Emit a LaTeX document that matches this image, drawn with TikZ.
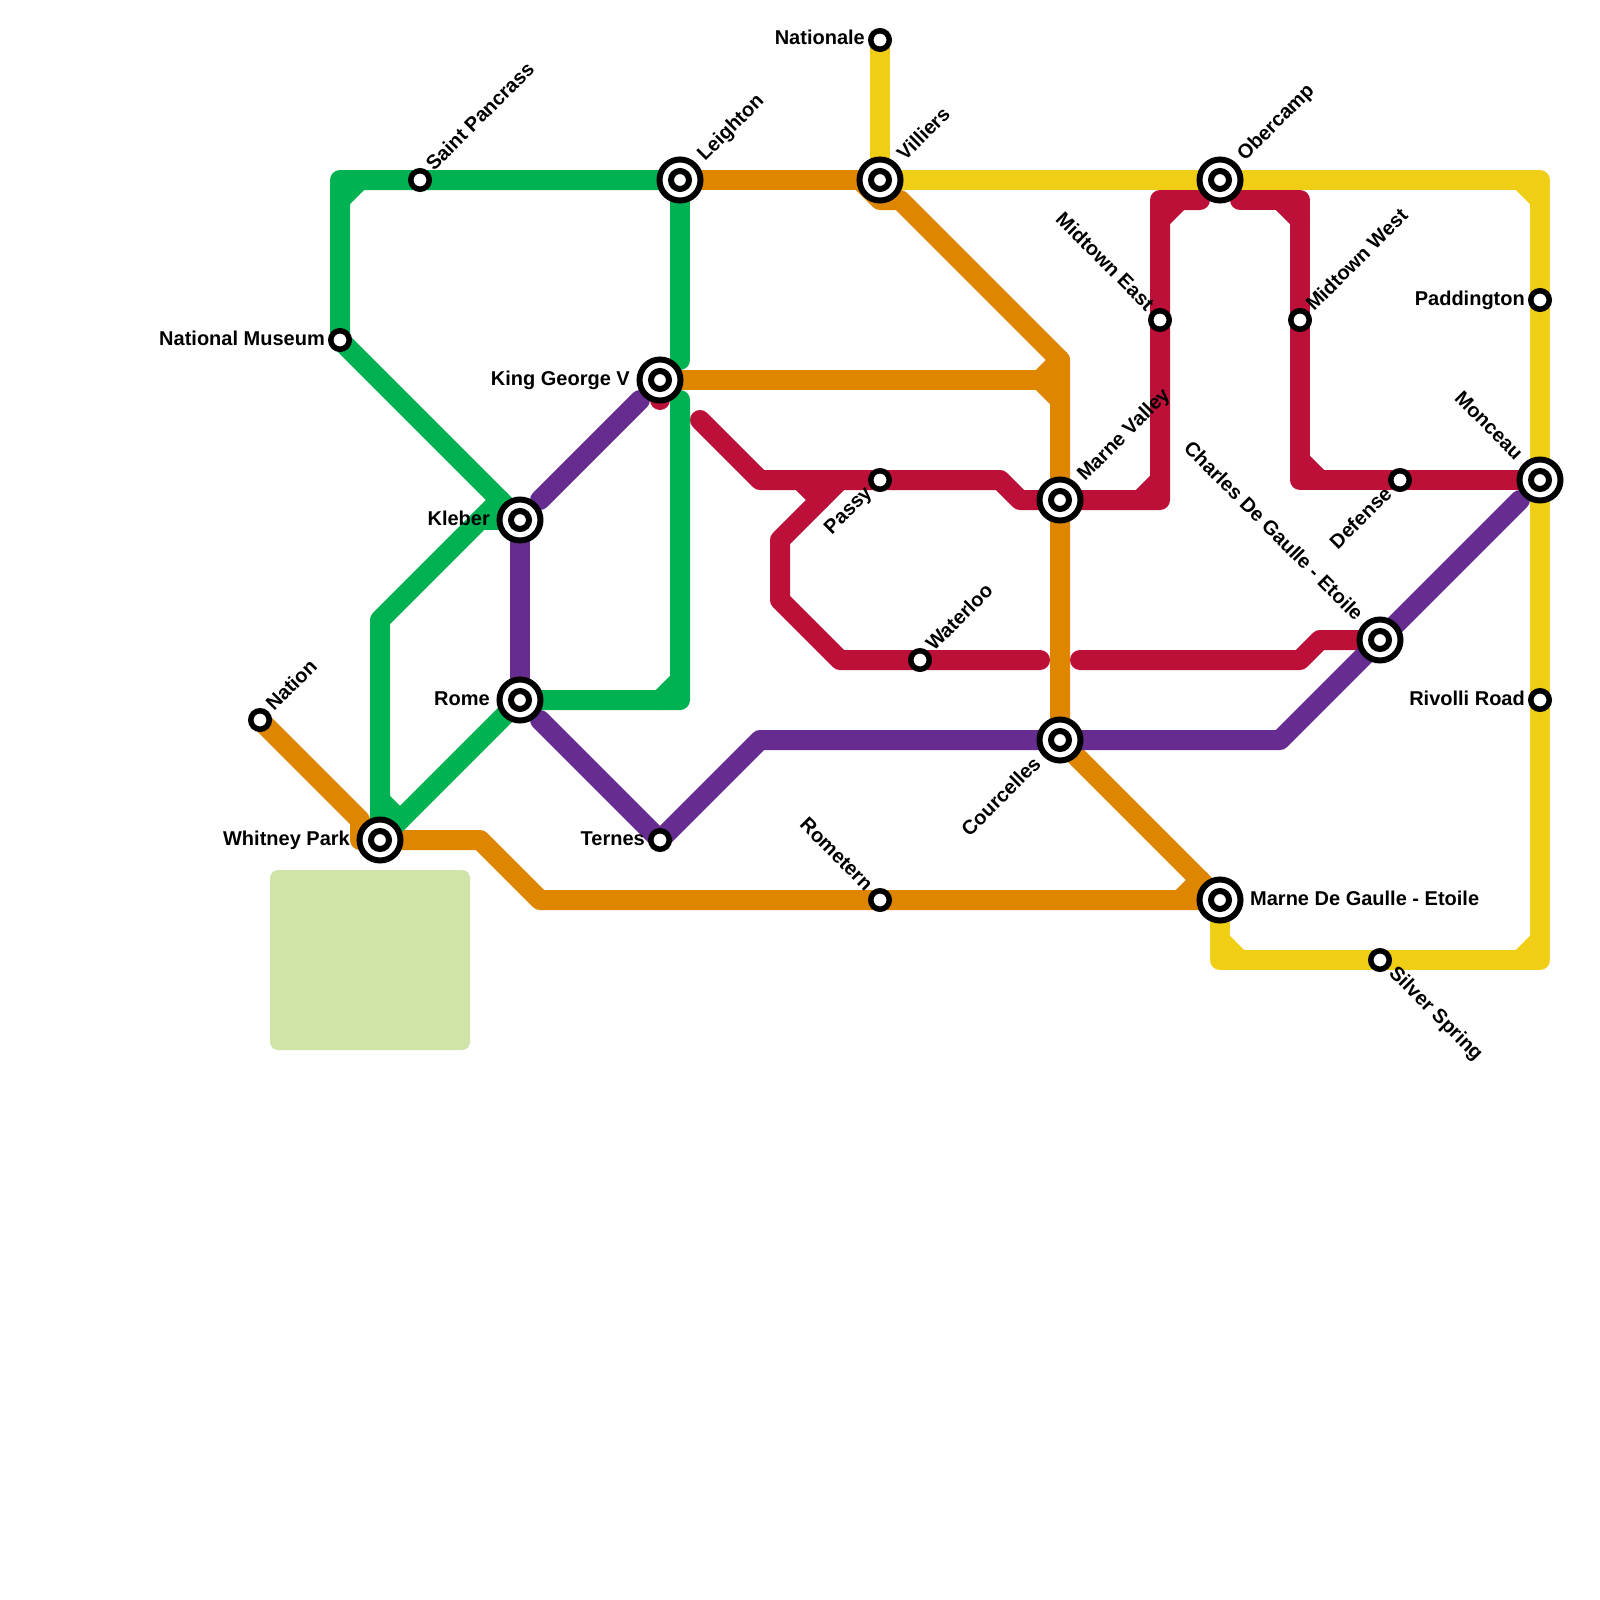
\documentclass[tikz,border=0pt]{standalone}
\usepackage{fontspec}
\setmainfont{Liberation Sans}
\usetikzlibrary{backgrounds}
\definecolor{mgreen}{HTML}{00B251}
\definecolor{morange}{HTML}{DF8600}
\definecolor{mred}{HTML}{BD1038}
\definecolor{mpurple}{HTML}{662C90}
\definecolor{myellow}{HTML}{F0CE15}
\definecolor{mpark}{HTML}{CFE4A7}
\tikzset{
  lineall/.style={line width=20pt,line cap=round,line join=round},
  lgreen/.style={lineall,draw=mgreen},
  lorange/.style={lineall,draw=morange},
  lred/.style={lineall,draw=mred},
  lpurple/.style={lineall,draw=mpurple},
  lyellow/.style={lineall,draw=myellow},
  bigouter/.style={circle,draw=black,fill=white,line width=6pt,minimum size=41pt,inner sep=0pt},
  biginner/.style={circle,draw=black,fill=white,line width=6pt,minimum size=18pt,inner sep=0pt},
  smallst/.style={circle,draw=black,fill=white,line width=5.5pt,minimum size=18.5pt,inner sep=0pt},
  lab/.style={inner sep=0pt,font=\fontsize{20}{24}\selectfont\bfseries,text=black},
  labl/.style={lab,anchor=base east},
  labr/.style={lab,anchor=base west},
  labupr/.style={lab,anchor=base west,rotate=45},
  labupl/.style={lab,anchor=base east,rotate=45},
  labdnl/.style={lab,anchor=base east,rotate=-45},
  labdnr/.style={lab,anchor=base west,rotate=-45}
}
\newcommand\bigsta[3]{\node[bigouter] (#1) at (#2,#3) {};\node[biginner] (#1i) at (#2,#3) {};}
\newcommand\smallsta[3]{\node[smallst] (#1) at (#2,#3) {};}
\begin{document}
\begin{tikzpicture}[x=1pt,y=-1pt]
\useasboundingbox (0,0) rectangle (1600,1600);
% bends
\foreach \n/\x/\y in {
 oa/360/820,ol/360/840,ob/480/840,oc/540/900,od/1180/900,oe/1200/880,
 of/860/180,og/880/200,oh/900/200,oi/1060/360,oj/1040/380,ok/1060/400,
 ga/340/180,gb/340/200,gc/360/180,gd/480/520,ge/380/620,gf/500/500,
 gg/380/800,gh/400/820,gi/680/700,gj/680/680,gk/660/700,gl/680/400,gm/680/360,
 ra/660/400,rb/700/420,rc/760/480,rd/1000/480,re/1020/500,rf/1160/500,
 rg/1140/500,rh/1160/480,ri/1160/200,rj/1200/200,rk/1160/220,rl/1180/200,
 rm/1240/200,rn/1300/200,ro/1280/200,rp/1300/220,rq/1300/480,rr/1300/460,rs/1320/480,
 rt/800/480,ru/820/500,rv/840/480,rw/780/540,rx/780/600,ry/840/660,rz/1040/660,
 sa/1080/660,sb/1300/660,sc/1320/640,
 pa/640/400,pb/540/500,pc/540/720,pd/760/740,pe/1280/740,pf/1520/500,
 ya/1540/180,yb/1520/180,yc/1540/200,yd/1540/960,ye/1540/940,yf/1520/960,
 yg/1220/960,yh/1220/940,yi/1240/960}
 {\coordinate (\n) at (\x,\y);}
% stations
\smallsta{nation}{260}{720}
\smallsta{natmus}{340}{340}
\smallsta{pancras}{420}{180}
\bigsta{whitney}{380}{840}
\bigsta{kleber}{520}{520}
\bigsta{rome}{520}{700}
\smallsta{ternes}{660}{840}
\bigsta{king}{660}{380}
\bigsta{leighton}{680}{180}
\smallsta{nationale}{880}{40}
\bigsta{villiers}{880}{180}
\smallsta{passy}{880}{480}
\smallsta{rometern}{880}{900}
\smallsta{waterloo}{920}{660}
\bigsta{mvalley}{1060}{500}
\bigsta{courcelles}{1060}{740}
\smallsta{mteast}{1160}{320}
\bigsta{obercamp}{1220}{180}
\bigsta{margaulle}{1220}{900}
\smallsta{mtwest}{1300}{320}
\smallsta{silver}{1380}{960}
\bigsta{charles}{1380}{640}
\smallsta{defense}{1400}{480}
\smallsta{paddington}{1540}{300}
\bigsta{monceau}{1540}{480}
\smallsta{rivolli}{1540}{700}
% lines
\begin{scope}[on background layer]
\fill[white] (0,0) rectangle (1600,1600);
\fill[mpark,rounded corners=8pt] (270,870) rectangle (470,1050);
% orange
\draw[lorange] (nation.center)--(oa)--(ol)--(whitney.center)--(ob)--(oc)--(rometern.center)--(margaulle.center);
\draw[lorange] (leighton.center)--(villiers.center);
\draw[lorange] (of)--(og)--(oh)--(oi)--(mvalley.center)--(courcelles.center)--(margaulle.center);
\draw[lorange] (king.center)--(oj);
\draw[lorange] (oi)--(oj)--(ok);
\draw[lorange] (od)--(oe);
% red
\draw[lred] (king.center)--(ra);
\draw[lred] (rb)--(rc)--(passy.center)--(rd)--(re)--(mvalley.center)--(rf)--(mteast.center)--(ri)--(rj);
\draw[lred] (rg)--(rh);
\draw[lred] (rk)--(rl);
\draw[lred] (rm)--(rn)--(mtwest.center)--(rq)--(defense.center)--(monceau.center);
\draw[lred] (ro)--(rp);
\draw[lred] (rr)--(rs);
\draw[lred] (rt)--(ru);
\draw[lred] (rv)--(rw)--(rx)--(ry)--(waterloo.center)--(rz);
\draw[lred] (sa)--(sb)--(sc)--(charles.center);
% purple
\draw[lpurple] (pa)--(pb);
\draw[lpurple] (kleber.center)--(rome.center);
\draw[lpurple] (pc)--(ternes.center)--(pd)--(courcelles.center)--(pe)--(charles.center)--(pf);
% green
\draw[lgreen] (leighton.center)--(pancras.center)--(ga)--(natmus.center)--(kleber.center);
\draw[lgreen] (gb)--(gc);
\draw[lgreen] (kleber.center)--(gd);
\draw[lgreen] (gf)--(ge)--(whitney.center);
\draw[lgreen] (gg)--(gh);
\draw[lgreen] (whitney.center)--(rome.center)--(gi)--(gl);
\draw[lgreen] (gj)--(gk);
\draw[lgreen] (leighton.center)--(gm);
% yellow
\draw[lyellow] (nationale.center)--(villiers.center)--(obercamp.center)--(ya)--(paddington.center)--(monceau.center)--(rivolli.center)--(yd)--(silver.center)--(yg)--(margaulle.center);
\draw[lyellow] (yb)--(yc);
\draw[lyellow] (ye)--(yf);
\draw[lyellow] (yh)--(yi);
\end{scope}
% labels
\node[labl] (tnationale) at (865,45) {Nationale};
\node[labl] (tnatmus) at (325,345) {National Museum};
\node[labl] (tking) at (630,385) {King George V};
\node[labl] (tkleber) at (490,525) {Kleber};
\node[labl] (trome) at (490,705) {Rome};
\node[labl] (twhitney) at (350,845) {Whitney Park};
\node[labl] (tternes) at (645,845) {Ternes};
\node[labl] (tpaddington) at (1525,305) {Paddington};
\node[labl] (trivolli) at (1525,705) {Rivolli Road};
\node[labr] (tmargaulle) at (1250,905) {Marne De Gaulle - Etoile};
\node[labupr] (tnation) at (274,712) {Nation};
\node[labupr] (tpancras) at (434,172) {Saint Pancrass};
\node[labupr] (twaterloo) at (934,652) {Waterloo};
\node[labupr] (tmtwest) at (1314,312) {Midtown West};
\node[labupr] (tleighton) at (705,162) {Leighton};
\node[labupr] (tvilliers) at (905,162) {Villiers};
\node[labupr] (tobercamp) at (1245,162) {Obercamp};
\node[labupr] (tmvalley) at (1085,482) {Marne Valley};
\node[labdnl] (tmteast) at (1146,312) {Midtown East};
\node[labdnl] (trometern) at (865,892) {Rometern};
\node[labdnl] (tmonceau) at (1515,461) {Monceau};
\node[labdnl] (tcharles) at (1355,622) {Charles De Gaulle - Etoile};
\node[labdnr] (tsilver) at (1388,974) {Silver Spring};
\node[labupl] (tpassy) at (873,494) {Passy};
\node[labupl] (tdefense) at (1393,495) {Defense};
\node[labupl] (tcourcelles) at (1042,765) {Courcelles};
\end{tikzpicture}
\end{document}
